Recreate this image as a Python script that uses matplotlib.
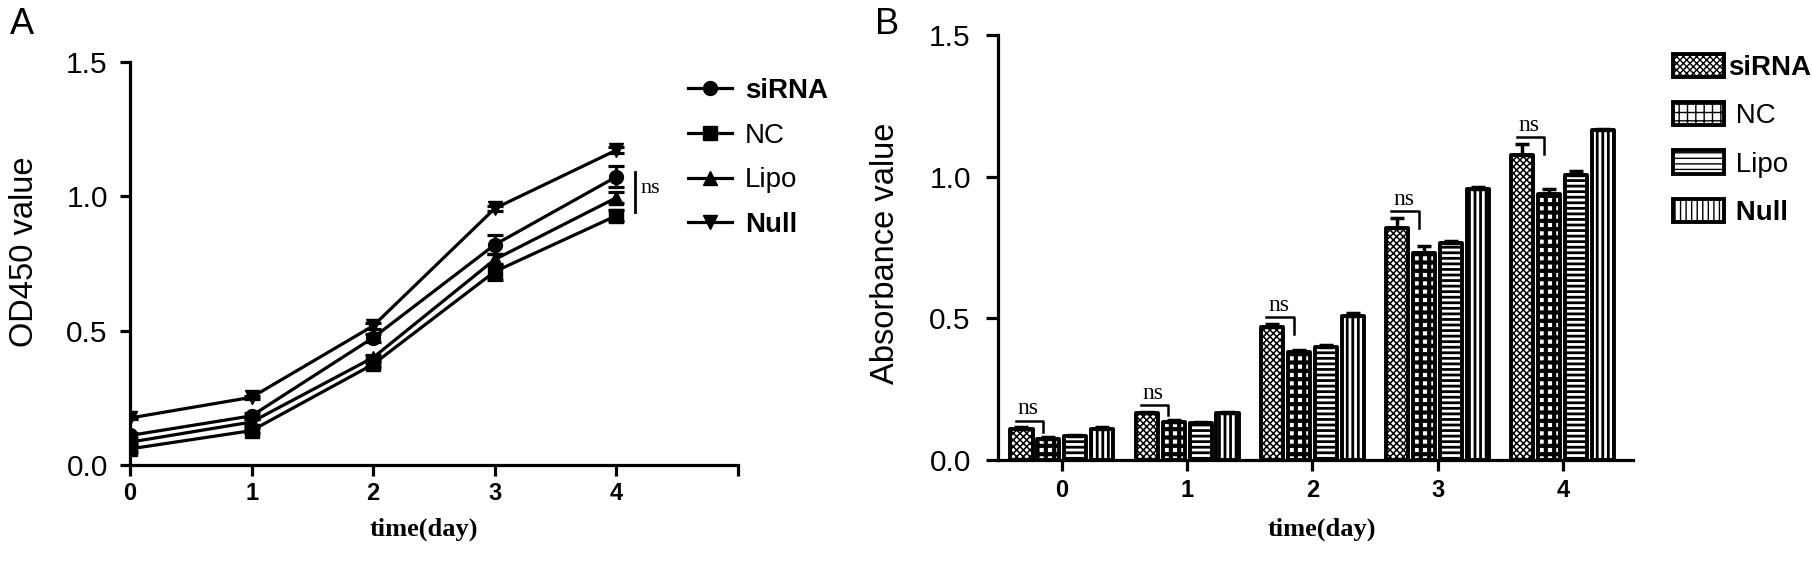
import numpy as np
import matplotlib.pyplot as plt

plt.rcParams['font.family'] = ['Liberation Sans', 'DejaVu Sans']

days = [0, 1, 2, 3, 4]
groups = ['siRNA', 'NC', 'Lipo', 'Null']

# panel A: OD450 growth curves
od_sirna = [0.11, 0.183, 0.474, 0.82, 1.073]
od_nc = [0.06, 0.128, 0.375, 0.72, 0.928]
od_lipo = [0.085, 0.16, 0.40, 0.765, 0.995]
od_null = [0.175, 0.252, 0.518, 0.955, 1.172]
od_sirna_err = [0.01, 0.01, 0.015, 0.035, 0.04]
od_nc_err = [0.01, 0.01, 0.01, 0.03, 0.02]
od_lipo_err = [0.005, 0.01, 0.01, 0.02, 0.02]
od_null_err = [0.005, 0.005, 0.01, 0.01, 0.01]

# panel B: absorbance bars
ab_sirna = [0.11, 0.165, 0.47, 0.82, 1.075]
ab_nc = [0.075, 0.135, 0.38, 0.73, 0.94]
ab_lipo = [0.085, 0.13, 0.40, 0.765, 1.005]
ab_null = [0.11, 0.165, 0.51, 0.955, 1.165]
ab_sirna_err = [0.005, 0.005, 0.01, 0.035, 0.04]
ab_nc_err = [0.005, 0.005, 0.01, 0.025, 0.015]
ab_lipo_err = [0.005, 0.005, 0.005, 0.008, 0.015]
ab_null_err = [0.005, 0.005, 0.008, 0.01, 0.005]

W, H = 1812, 570
fig = plt.figure(figsize=(W / 100, H / 100), dpi=100)

def px_axes(l, r, b, t):
    return fig.add_axes([l / W, 1 - b / H, (r - l) / W, (b - t) / H])

def style_axes(ax, ylen, ypad, xpad):
    for s in ['top', 'right']:
        ax.spines[s].set_visible(False)
    for s in ['left', 'bottom']:
        ax.spines[s].set_linewidth(2.3)
    ax.tick_params(axis='y', length=ylen, width=2.3, pad=ypad, labelsize=21.5)
    ax.tick_params(axis='x', length=8, width=2.3, pad=xpad, labelsize=17)
    for lab in ax.get_xticklabels():
        lab.set_fontweight('bold')
    ax.set_ylim(0, 1.5)
    ax.set_yticks([0, 0.5, 1.0, 1.5])
    ax.set_yticklabels(['0.0', '0.5', '1.0', '1.5'])

# ---------------- panel A ----------------
axA = px_axes(130, 738, 465, 62)
series_a = [(od_sirna, od_sirna_err, 'o'), (od_nc, od_nc_err, 's'),
            (od_lipo, od_lipo_err, '^'), (od_null, od_null_err, 'v')]
handles_a = []
for (vals, err, mk), name in zip(series_a, groups):
    h = axA.errorbar(days, vals, yerr=err, color='black', marker=mk, markersize=10,
                     linewidth=2.3, elinewidth=2.3, capsize=6, capthick=2.3, label=name)
    handles_a.append(h.lines[0])
axA.set_xlim(0, 5)
axA.set_xticks([0, 1, 2, 3, 4, 5])
axA.set_xticklabels(['0', '1', '2', '3', '4', ''])
style_axes(axA, 7.5, 8.5, 4)

axA.plot([4.15, 4.15], [0.94, 1.09], color='black', linewidth=2)
axA.text(4.2, 1.03, 'ns', family='Liberation Serif', fontsize=16, va='center', ha='left')

legA = axA.legend(handles=handles_a, labels=groups, loc='upper left',
                  bbox_to_anchor=(688 / W, 1 - 78 / H),
                  bbox_transform=fig.transFigure, frameon=False, fontsize=20,
                  handlelength=1.6, handletextpad=0.45, labelspacing=0.67, borderpad=0,
                  borderaxespad=0)
for t in legA.get_texts():
    if t.get_text() in ('siRNA', 'Null'):
        t.set_fontweight('bold')

fig.text(22 / W, 1 - 25 / H, 'A', fontsize=26, ha='center', va='center')
fig.text(25 / W, 1 - 252 / H, 'OD450 value', fontsize=23.5, rotation=90, ha='center', va='center')
fig.text(424 / W, 1 - 529 / H, 'time(day)', family='Liberation Serif', fontweight='bold',
         fontsize=19, ha='center', va='center')

# ---------------- panel B ----------------
axB = px_axes(998, 1633, 460, 35)
x = np.arange(len(days))
bar_w = 0.176
step = 0.215
hatches = ['xxxxx', '++', '---', '|||']
series_b = [(ab_sirna, ab_sirna_err), (ab_nc, ab_nc_err), (ab_lipo, ab_lipo_err), (ab_null, ab_null_err)]
labels_b = ['siRNA', ' NC', ' Lipo', ' Null']
hatch_lw = [1.1, 3.0, 2.0, 2.0]
for i, ((vals, err), hat) in enumerate(zip(series_b, hatches)):
    with plt.rc_context({'hatch.linewidth': hatch_lw[i]}):
        bars = axB.bar(x + (i - 1.5) * step, vals, width=bar_w, color='white', edgecolor='black',
                       hatch=hat, linewidth=2.8, joinstyle='round', label=labels_b[i], zorder=2)
    for b in bars:
        if hasattr(b, 'set_hatch_linewidth'):
            b.set_hatch_linewidth(hatch_lw[i])
    axB.errorbar(x + (i - 1.5) * step, vals, yerr=[np.zeros(len(err)), err], fmt='none',
                 ecolor='black', elinewidth=2.5, capsize=5, capthick=2.5, zorder=3)

axB.set_xlim(-0.51, 4.56)
axB.set_xticks(x)
axB.set_xticklabels([str(d) for d in days])
style_axes(axB, 8.6, 11, 5.5)

# ns brackets between siRNA and NC
for g in range(len(days)):
    top = ab_sirna[g] + ab_sirna_err[g] + 0.024
    low = max(ab_nc[g] + ab_nc_err[g] + 0.02, top - 0.06)
    axB.plot([g - 0.37, g - 0.15, g - 0.15], [top, top, low], color='black', linewidth=1.8,
             zorder=4)
    axB.text(g - 0.27, top + 0.004, 'ns', family='Liberation Serif', fontsize=17,
             ha='center', va='bottom')

legB = axB.legend(loc='upper left', bbox_to_anchor=(1673 / W, 1 - 54 / H),
                  bbox_transform=fig.transFigure, frameon=False, fontsize=20,
                  handlelength=1.85, handleheight=0.9, handletextpad=0.12,
                  labelspacing=0.76, borderpad=0, borderaxespad=0)
for t in legB.get_texts():
    if t.get_text().strip() in ('siRNA', 'Null'):
        t.set_fontweight('bold')

fig.text(887 / W, 1 - 25 / H, 'B', fontsize=26, ha='center', va='center')
fig.text(886 / W, 1 - 253 / H, 'Absorbance value', fontsize=23.5, rotation=90,
         ha='center', va='center')
fig.text(1322 / W, 1 - 529 / H, 'time(day)', family='Liberation Serif', fontweight='bold',
         fontsize=19, ha='center', va='center')

fig.savefig('out.png', dpi=100)
